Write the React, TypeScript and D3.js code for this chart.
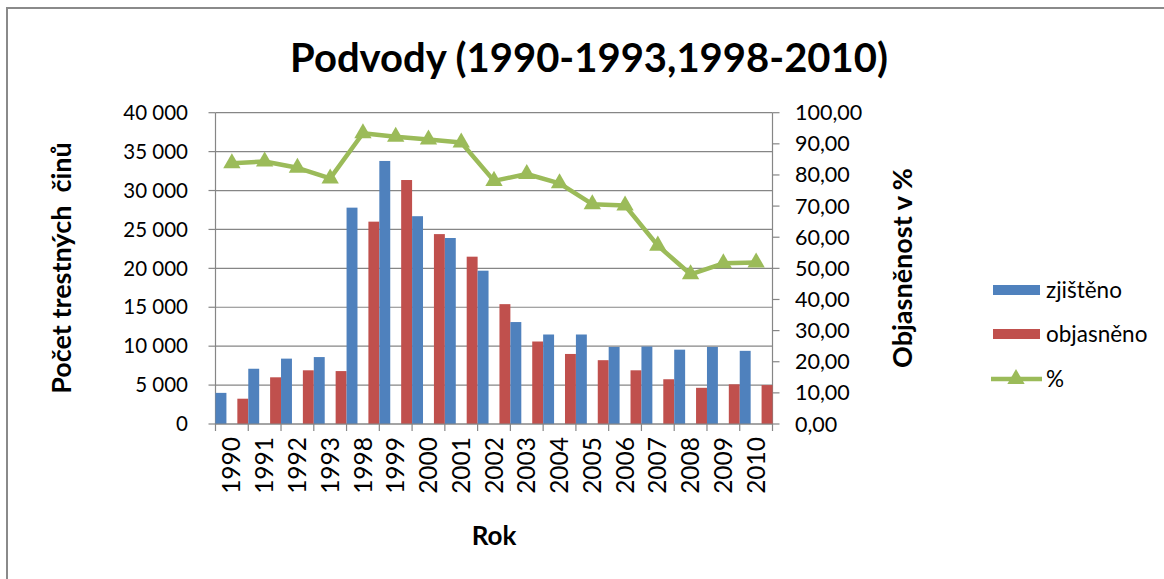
import * as d3 from "d3";
import React from "react";

const years = ["1990", "1991", "1992", "1993", "1998", "1999", "2000", "2001", "2002", "2003", "2004", "2005", "2006", "2007", "2008", "2009", "2010"];
const zjisteno = [4000, 7100, 8400, 8600, 27800, 33800, 26700, 23900, 19700, 13100, 11500, 11500, 9900, 9950, 9550, 9900, 9400];
const objasneno = [3250, 6000, 6900, 6800, 26000, 31350, 24400, 21500, 15400, 10600, 9000, 8200, 6900, 5750, 4650, 5100, 5000];
const procenta = [83.8, 84.3, 82.3, 78.9, 93.4, 92.3, 91.4, 90.4, 78.1, 80.3, 77.3, 70.6, 70.2, 57.3, 48.1, 51.6, 51.9];
const leftTicks = [0, 5000, 10000, 15000, 20000, 25000, 30000, 35000, 40000];
const rightTicks = [0, 10, 20, 30, 40, 50, 60, 70, 80, 90, 100];

const BLUE = "#4F81BD";
const RED = "#C0504D";
const GREEN = "#9BBB59";
const GRID = "#868686";
const FONT = "Lato, 'Open Sans', sans-serif";

const cz = d3.formatLocale({ decimal: ",", thousands: "\u00a0", grouping: [3], currency: ["", ""] });
const fmtLeft = cz.format(",d");
const fmtRight = cz.format(".2f");

const App = () => {
  const width = 1164;
  const height = 579;
  const left = 215.5;
  const right = 772.5;
  const top = 112.7;
  const bottom = 424;

  const x = d3.scaleBand().domain(years).range([left, right]).padding(0);
  const yL = d3.scaleLinear().domain([0, 40000]).range([bottom, top]);
  const yR = d3.scaleLinear().domain([0, 100]).range([bottom, top]);
  const bw = x.bandwidth() / 3;

  const line = d3
    .line<number>()
    .x((d, i) => (x(years[i]) as number) + x.bandwidth() / 2)
    .y((d) => yR(d));
  const tri = d3.symbol().type(d3.symbolTriangle).size(130)() as string;

  return (
    <svg width={width} height={height} style={{ position: "absolute", left: 0, top: 0, background: "#fff" }} fontFamily={FONT}>
      <rect x={7} y={8} width={1300} height={800} fill="#fff" stroke="#8a8a8a" strokeWidth={2} />

      <text x={589} y={72} textAnchor="middle" fontSize={40} fontWeight="bold" fill="#000">
        Podvody (1990-1993,1998-2010)
      </text>

      {/* mřížka */}
      {leftTicks.map((t) => (
        <line key={"g" + t} x1={left} x2={right} y1={yL(t)} y2={yL(t)} stroke={GRID} strokeWidth={1.2} />
      ))}

      {/* levá osa */}
      <line x1={left} x2={left} y1={top} y2={bottom} stroke={GRID} strokeWidth={1.2} />
      {leftTicks.map((t) => (
        <g key={"l" + t}>
          <line x1={left - 7} x2={left} y1={yL(t)} y2={yL(t)} stroke={GRID} strokeWidth={1.2} />
          <text x={188} y={yL(t)} dy="0.35em" textAnchor="end" fontSize={20.5} fill="#000">
            {fmtLeft(t)}
          </text>
        </g>
      ))}

      {/* pravá osa */}
      <line x1={right} x2={right} y1={top} y2={bottom} stroke={GRID} strokeWidth={1.2} />
      {rightTicks.map((t) => (
        <g key={"r" + t}>
          <line x1={right} x2={right + 7} y1={yR(t)} y2={yR(t)} stroke={GRID} strokeWidth={1.2} />
          <text x={795} y={yR(t)} dy="0.35em" textAnchor="start" fontSize={21.5} fill="#000">
            {fmtRight(t)}
          </text>
        </g>
      ))}

      {/* sloupce */}
      {years.map((yr, i) => (
        <g key={"b" + yr}>
          <rect x={x(yr) as number} y={yL(zjisteno[i])} width={bw} height={bottom - yL(zjisteno[i])} fill={BLUE} />
          <rect x={(x(yr) as number) + 2 * bw} y={yL(objasneno[i])} width={bw} height={bottom - yL(objasneno[i])} fill={RED} />
        </g>
      ))}

      {/* osa x */}
      <line x1={left} x2={right} y1={bottom} y2={bottom} stroke={GRID} strokeWidth={1.2} />
      {years.concat([""]).map((yr, i) => {
        const xx = left + i * x.bandwidth();
        return <line key={"t" + i} x1={xx} x2={xx} y1={bottom} y2={bottom + 7} stroke={GRID} strokeWidth={1.2} />;
      })}
      {years.map((yr) => {
        const cx = (x(yr) as number) + x.bandwidth() / 2;
        return (
          <text key={"x" + yr} transform={`translate(${cx},437) rotate(-90)`} dy="0.35em" textAnchor="end" fontSize={24.5} fill="#000">
            {yr}
          </text>
        );
      })}

      {/* čára % */}
      <path d={line(procenta) as string} fill="none" stroke={GREEN} strokeWidth={4.5} strokeLinejoin="round" />
      {procenta.map((p, i) => (
        <path key={"m" + i} d={tri} transform={`translate(${(x(years[i]) as number) + x.bandwidth() / 2},${yR(p)})`} fill={GREEN} />
      ))}

      {/* popisky os */}
      <text transform="translate(62,268) rotate(-90)" dy="0.35em" textAnchor="middle" fontSize={27} fontWeight="bold" fill="#000">
        Počet trestných&#160; činů
      </text>
      <text transform="translate(903,268) rotate(-90)" dy="0.35em" textAnchor="middle" fontSize={27} fontWeight="bold" fill="#000">
        Objasněnost v %
      </text>
      <text x={494} y={545} textAnchor="middle" fontSize={26} fontWeight="bold" fill="#000">
        Rok
      </text>

      {/* legenda */}
      <rect x={993} y={285} width={47} height={10} fill={BLUE} />
      <text x={1046} y={290} dy="0.35em" fontSize={22.5} fill="#000">zjištěno</text>
      <rect x={993} y={329} width={47} height={10} fill={RED} />
      <text x={1046} y={334} dy="0.35em" fontSize={22.5} fill="#000">objasněno</text>
      <line x1={991} x2={1042} y1={379} y2={379} stroke={GREEN} strokeWidth={4.5} />
      <path d={tri} transform="translate(1016,379)" fill={GREEN} />
      <text x={1046} y={379} dy="0.35em" fontSize={22.5} fill="#000">%</text>
    </svg>
  );
};

export default App;
